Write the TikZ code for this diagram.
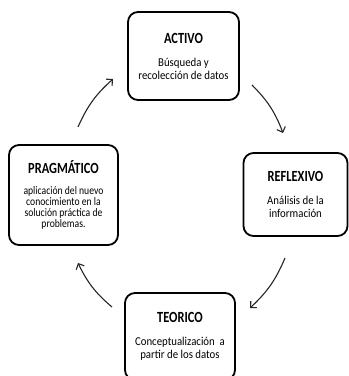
\documentclass[tikz,border=0pt]{standalone}
\usepackage{fontspec}
\setmainfont{Carlito}[FakeStretch=0.9]
\newfontfamily\ttlfont{Carlito}[FakeStretch=0.8]
\newfontfamily\prafont{Carlito}[FakeStretch=0.84]
\usetikzlibrary{arrows.meta}
\tikzset{
  stage/.style={draw=black, line width=1.8pt, rounded corners=10pt, align=center,
    inner sep=2pt, font=\fontsize{12}{13}\selectfont, text=black},
  cyc/.style={line width=1.1pt, draw=black!85, -{Straight Barb[length=4.5pt,width=9pt,line width=1.1pt]}},
}
\newcommand{\ttl}[1]{{\ttlfont\fontsize{15.5}{15}\selectfont\bfseries #1}\\[10pt]}
\begin{document}
\begin{tikzpicture}[x=1pt,y=1pt]
\useasboundingbox (0,0) rectangle (349,376);
\clip (0,0) rectangle (349,376);
\node[stage, minimum width=111pt, minimum height=88pt] (act) at (183.5,320) {\ttl{ACTIVO}Búsqueda y\\recolección de datos};
\node[stage, minimum width=104pt, minimum height=83pt] (ref) at (295.5,181.5) {\ttl{REFLEXIVO}Análisis de la\\información};
\node[stage, minimum width=109pt, minimum height=100pt, font=\prafont\fontsize{11.5}{10.8}\selectfont] (pra) at (63.5,181) {\ttl{PRAGMÁTICO}aplicación del nuevo\\conocimiento en la\\solución práctica de\\problemas.};
\node[stage, minimum width=110pt, minimum height=87pt] (teo) at (180,39.5) {\ttl{TEORICO}Conceptualización\ \ a\\partir de los datos};
\coordinate (a1s) at (78,249); \coordinate (a1e) at (113,297);
\coordinate (a2s) at (252,291); \coordinate (a2e) at (283,243);
\coordinate (a3s) at (285,118); \coordinate (a3e) at (250,68);
\coordinate (a4s) at (112,69); \coordinate (a4e) at (78,113);
\draw[cyc] (a1s) to[bend left=12] (a1e);
\draw[cyc] (a2s) to[bend left=12] (a2e);
\draw[cyc] (a3s) to[bend left=12] (a3e);
\draw[cyc] (a4s) to[bend left=12] (a4e);
\end{tikzpicture}
\end{document}
